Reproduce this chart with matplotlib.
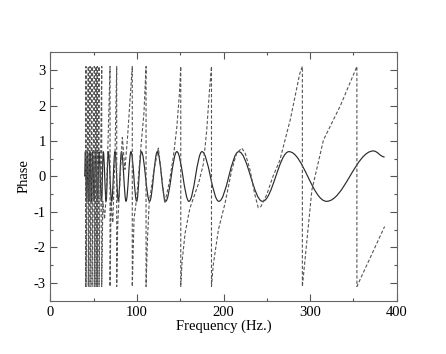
"""
Phase against frequency: smooth phase (solid) and wrapped phase (dashed).
"""

import numpy as np
import matplotlib

matplotlib.use("Agg")
from matplotlib import pyplot as plt
from matplotlib.path import Path
from matplotlib.patches import PathPatch
from matplotlib.ticker import MultipleLocator

plt.rcParams["font.family"] = ["Liberation Serif", "DejaVu Serif"]
plt.rcParams["axes.unicode_minus"] = False

# solid curve: turning points (Hz, phase)
solid_freq = [39.5, 40.3, 41.8, 42.7, 44.3, 45.5, 47.3, 48.5, 50.6, 52.0, 54.5,
              56.0, 59.0, 61.0, 64.3, 66.8, 70.7, 74.5, 78.4, 82.0, 87.3, 93.0,
              99.6, 105.0, 114.5, 123.5, 133.0, 146.0, 160.0, 175.0, 194.5,
              217.5, 245.0, 275.5, 319.0, 373.0, 386.0]
solid_phase = [0.0, 0.7, -0.7, 0.7, -0.7, 0.7, -0.7, 0.7, -0.7, 0.7, -0.7,
               0.7, -0.7, 0.7, -0.7, 0.7, -0.7, 0.7, -0.7, 0.7, -0.7, 0.7,
               -0.7, 0.7, -0.7, 0.7, -0.7, 0.7, -0.7, 0.7, -0.7,
               0.7, -0.7, 0.7, -0.7, 0.72, 0.55]

# dashed curve: wrapped phase, read point by point
dashed_freq = [40.5, 41.0, 41.0, 43.7, 43.7, 45.7, 45.7, 48.0, 48.0, 50.6, 50.6,
               52.6, 52.6, 54.1, 54.1, 56.1, 56.1, 59.2, 59.2, 60.5, 62.5, 64.5,
               66.5, 68.8, 68.8, 70.0, 72.0, 74.5, 76.5, 76.5, 77.5, 79.0, 83.0,
               86.0, 89.0, 94.5, 94.5, 96.5, 99.6, 104.0, 108.0, 110.4, 110.4,
               112.0, 114.0, 119.0, 124.6, 128.0, 132.0, 137.0, 142.0, 146.0,
               149.0, 150.5, 150.5, 152.0, 155.5, 161.0, 171.0, 176.6, 180.5,
               183.6, 186.0, 186.0, 188.0, 194.0, 201.7, 209.4, 215.0, 221.0,
               225.0, 230.6, 236.0, 240.0, 243.0, 250.0, 257.0, 265.0, 277.0,
               288.0, 291.0, 291.0, 302.0, 315.4, 335.0, 354.0, 354.0, 386.0]
dashed_phase = [-3.1, 3.1, -3.1, 3.1, -3.1, 3.1, -3.1, 3.1, -3.1, 3.1, -3.1,
                3.1, -3.1, 3.1, -3.1, 3.1, -3.1, 3.1, -3.1, -0.7, -1.2, -0.5,
                1.0, 3.1, -3.1, -0.7, -1.3, 0.6, 3.1, -3.1, -1.5, -0.7, 1.1,
                0.2, 1.1, 3.1, -3.1, -1.2, -0.6, 0.7, 1.8, 3.1, -3.1,
                -1.8, -0.75, 0.1, 0.8, 0.1, -0.75, -0.2, 0.56, 1.4,
                2.35, 3.1, -3.1, -2.4, -1.6, -0.9, -0.2, 0.35, 1.3,
                2.4, 3.1, -3.1, -2.5, -1.5, -0.75, 0.18, 0.65, 0.8,
                0.65, 0.18, -0.5, -0.88, -0.85, -0.5, 0.0, 0.46, 1.6,
                2.9, 3.1, -3.1, -0.38, 1.03, 2.0, 3.1, -3.1, -1.41]

x_ticks = [0, 100, 200, 300, 400]
y_ticks = [-3, -2, -1, 0, 1, 2, 3]

fig = plt.figure(figsize=(4.46, 3.54), dpi=100)
ax = fig.add_axes([0.1132, 0.1506, 0.7763, 0.7017])

# smooth the solid curve between turning points with flat-tangent cubic pieces
verts = [(solid_freq[0], solid_phase[0])]
codes = [Path.MOVETO]
for x0, y0, x1, y1 in zip(solid_freq[:-1], solid_phase[:-1],
                          solid_freq[1:], solid_phase[1:]):
    dx = x1 - x0
    verts += [(x0 + 0.3642 * dx, y0), (x1 - 0.3642 * dx, y1), (x1, y1)]
    codes += [Path.CURVE4] * 3
ax.add_patch(PathPatch(Path(verts, codes), facecolor="none",
                       edgecolor="#2a2a2a", linewidth=0.85))

ax.plot(dashed_freq, dashed_phase, color="#555555", linewidth=0.8,
        linestyle=(0, (3, 1.8)))

ax.set_xlim(0, 400)
ax.set_ylim(-3.5, 3.5)
ax.set_xticks(x_ticks)
ax.set_yticks(y_ticks)
ax.xaxis.set_minor_locator(MultipleLocator(50))
ax.yaxis.set_minor_locator(MultipleLocator(0.5))
ax.tick_params(which="both", direction="in", top=True, right=True,
               colors="#555555", labelcolor="black", labelsize=10.5, width=0.8)
ax.tick_params(which="major", length=5)
ax.tick_params(which="minor", length=2.5)
for side in ax.spines.values():
    side.set_color("#666666")
    side.set_linewidth(0.8)

ax.set_xlabel("Frequency (Hz.)", fontsize=10.5, labelpad=1)
ax.set_ylabel("Phase", fontsize=10.5, labelpad=2)

fig.savefig("out.png", dpi=100)
